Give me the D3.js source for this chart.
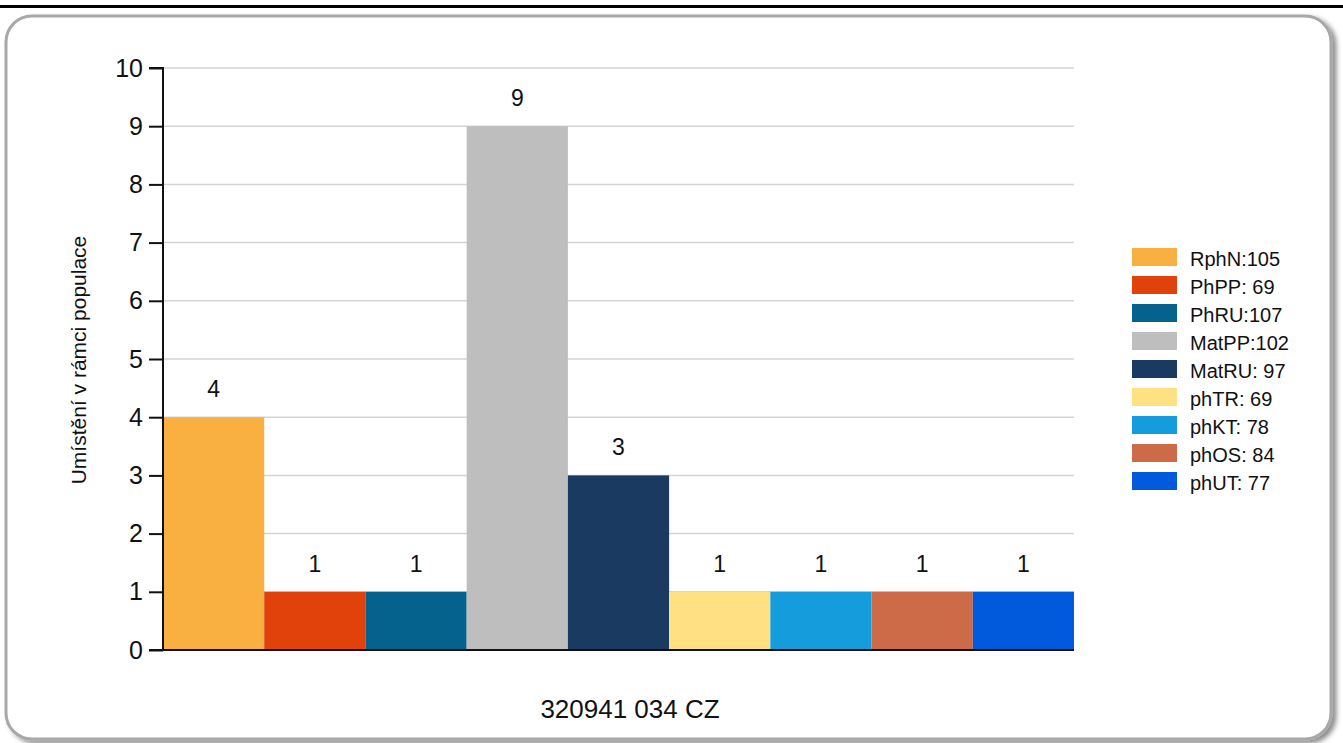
<!DOCTYPE html>
<html><head><meta charset="utf-8">
<script src="https://cdn.jsdelivr.net/npm/d3@7"></script>
<style>body{margin:0;background:#fff;font-family:"Liberation Sans",Arial,sans-serif}</style>
</head><body>
<svg id="c" width="1343" height="743"></svg>
<script>
const categories = ["RphN:105","PhPP: 69","PhRU:107","MatPP:102","MatRU: 97","phTR: 69","phKT: 78","phOS: 84","phUT: 77"];
const values = [4,1,1,9,3,1,1,1,1];
const colors = ["#F9B040","#E1410A","#05628C","#BEBEBE","#1A3A62","#FFE082","#159CDC","#CD6A47","#005ADB"];
const yTicks = [0,1,2,3,4,5,6,7,8,9,10];
const xTitle = "320941 034 CZ";
const yTitle = "Umístění v rámci populace";

const svg = d3.select("#c");
const defs = svg.append("defs");
const f = defs.append("filter").attr("id","sh").attr("x","-5%").attr("y","-5%").attr("width","110%").attr("height","110%");
f.append("feDropShadow").attr("dx",4).attr("dy",3).attr("stdDeviation",2.5).attr("flood-color","#000").attr("flood-opacity",0.45);

svg.append("rect").attr("x",0).attr("y",5).attr("width",1343).attr("height",3).attr("fill","#000");
svg.append("rect").attr("x",6).attr("y",16).attr("width",1325).attr("height",723)
  .attr("rx",26).attr("ry",26).attr("fill","#fff").attr("stroke","#a8a8a8").attr("stroke-width",3).attr("filter","url(#sh)");

const x = d3.scaleBand().domain(categories).range([163,1074]).padding(0);
const y = d3.scaleLinear().domain([0,10]).range([650,68]);

const g = svg.append("g");
g.selectAll("line.grid").data(yTicks.filter(d=>d>0)).join("line")
  .attr("x1",163).attr("x2",1074).attr("y1",d=>y(d)).attr("y2",d=>y(d))
  .attr("stroke","#d4d4d4").attr("stroke-width",1.5);

g.selectAll("rect.bar").data(values).join("rect")
  .attr("x",(d,i)=>x(categories[i])).attr("width",x.bandwidth())
  .attr("y",d=>y(d)).attr("height",d=>y(0)-y(d)).attr("fill",(d,i)=>colors[i]);

g.selectAll("text.val").data(values).join("text")
  .attr("x",(d,i)=>x(categories[i])+x.bandwidth()/2).attr("y",d=>y(d)-20)
  .attr("text-anchor","middle").attr("font-size",23).attr("fill","#111").text(d=>d);

const ya = d3.axisLeft(y).tickValues(yTicks).tickSize(14).tickPadding(6).tickFormat(d3.format("d"));
const ag = g.append("g").attr("transform","translate(163,0)").call(ya);
ag.attr("font-size",25).attr("font-family","Liberation Sans, Arial, sans-serif");
ag.select(".domain").attr("stroke","#111").attr("stroke-width",2).attr("d","M-14,68H0V650");
ag.selectAll(".tick line").attr("stroke","#111").attr("stroke-width",2);
ag.selectAll(".tick text").attr("fill","#111");

g.append("line").attr("x1",149).attr("x2",1074).attr("y1",650).attr("y2",650).attr("stroke","#111").attr("stroke-width",2);

g.append("text").attr("transform","translate(86,360) rotate(-90)").attr("text-anchor","middle")
  .attr("font-size",21).attr("fill","#111").text(yTitle);
g.append("text").attr("x",630).attr("y",718).attr("text-anchor","middle")
  .attr("font-size",26).attr("fill","#111").text(xTitle);

const lg = g.append("g");
categories.forEach((c,i)=>{
  const top = 248 + i*28;
  lg.append("rect").attr("x",1132).attr("y",top).attr("width",45).attr("height",18).attr("fill",colors[i]);
  lg.append("text").attr("x",1190).attr("y",top+18).attr("font-size",20).attr("fill","#111").text(c);
});
</script>
</body></html>
